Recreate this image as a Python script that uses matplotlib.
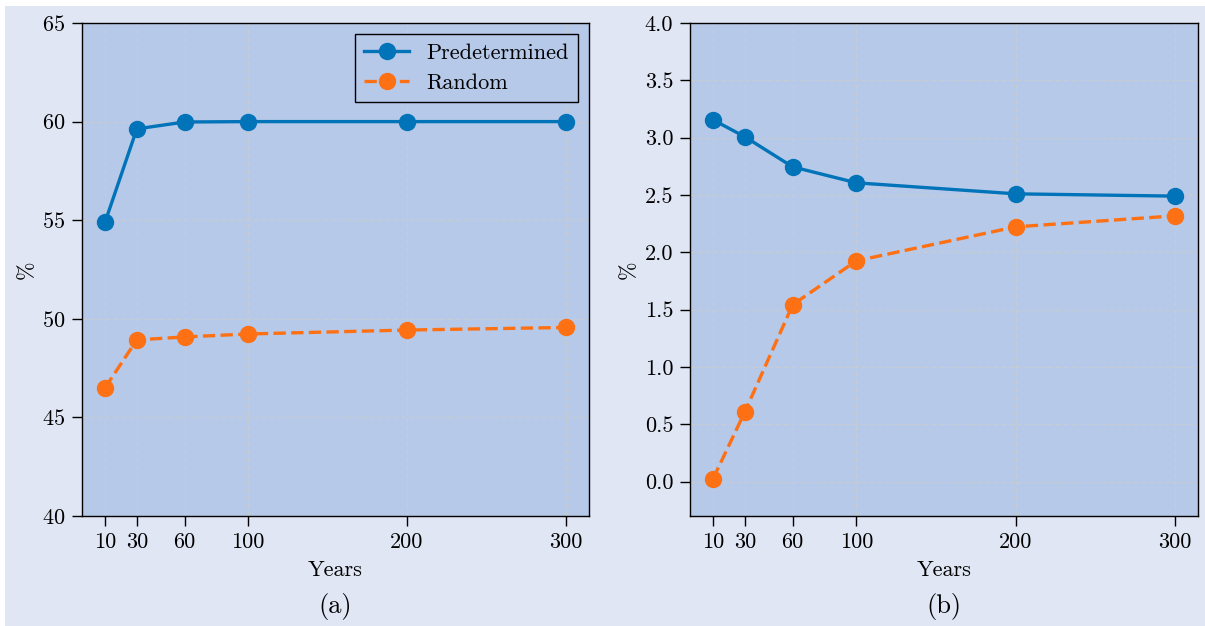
import matplotlib
matplotlib.use("Agg")
import matplotlib.pyplot as plt
from matplotlib.patches import Rectangle

years = [10, 30, 60, 100, 200, 300]
pred_a = [54.9, 59.63, 59.98, 60.0, 60.0, 60.0]
rand_a = [46.5, 48.93, 49.08, 49.23, 49.43, 49.56]
pred_b = [3.155, 3.007, 2.745, 2.606, 2.51, 2.49]
rand_b = [0.026, 0.61, 1.543, 1.926, 2.222, 2.318]
labels = ["Predetermined", "Random"]
captions = ["(a)", "(b)"]

plt.rcParams["font.family"] = "serif"
plt.rcParams["font.serif"] = ["cmr10"]
plt.rcParams["mathtext.fontset"] = "cm"
plt.rcParams["axes.formatter.use_mathtext"] = True
plt.rcParams["axes.unicode_minus"] = False

BLUE = "#0173b8"
ORANGE = "#fe7014"
AXBG = "#b6c9e9"
FIGBG = "#e0e6f4"

fig = plt.figure(figsize=(12.05, 6.26), dpi=100, facecolor="white")
fig.patches.append(Rectangle((5 / 1205, 0), 1 - 5 / 1205, 1 - 6 / 626,
                             transform=fig.transFigure, facecolor=FIGBG,
                             edgecolor="none", zorder=-10))

ax1 = fig.add_axes([82 / 1205, 1 - 516 / 626, (589 - 82) / 1205, (516 - 23) / 626])
ax2 = fig.add_axes([690 / 1205, 1 - 516 / 626, (1198 - 690) / 1205, (516 - 23) / 626])

for ax, p, r, cap in [(ax1, pred_a, rand_a, captions[0]), (ax2, pred_b, rand_b, captions[1])]:
    ax.set_facecolor(AXBG)
    ax.plot(years, p, "-", color=BLUE, marker="o", markersize=11.5, linewidth=2.4, label=labels[0])
    ax.plot(years, r, "--", color=ORANGE, marker="o", markersize=11.5, linewidth=2.4, label=labels[1])
    ax.set_xticks(years)
    ax.set_xticklabels([str(y) for y in years])
    ax.grid(True, linestyle=(0, (4, 3)), color="#cccccc", linewidth=0.8, alpha=0.9)
    ax.set_axisbelow(True)
    ax.tick_params(labelsize=16, length=7, width=1, direction="out", pad=5)
    ax.set_xlabel("Years", fontsize=16, labelpad=6)
    ax.set_ylabel("%", fontsize=16, labelpad=4)
    for s in ax.spines.values():
        s.set_linewidth(1.0)
        s.set_color("black")
    ax.text(0.5, -0.183, cap, transform=ax.transAxes, ha="center", va="center", fontsize=19)

ax1.set_ylim(40, 65)
ax1.set_yticks([40, 45, 50, 55, 60, 65])
ax2.set_ylim(-0.3, 4.0)
ax2.set_yticks([0.0, 0.5, 1.0, 1.5, 2.0, 2.5, 3.0, 3.5, 4.0])
ax2.set_yticklabels(["0.0", "0.5", "1.0", "1.5", "2.0", "2.5", "3.0", "3.5", "4.0"])

leg = ax1.legend(loc="upper right", fontsize=16, fancybox=False, framealpha=1.0,
                 edgecolor="black", facecolor=AXBG, borderpad=0.4, handlelength=2.0)
leg.get_frame().set_linewidth(1.0)

fig.savefig("out.png", dpi=100, facecolor=fig.get_facecolor())
